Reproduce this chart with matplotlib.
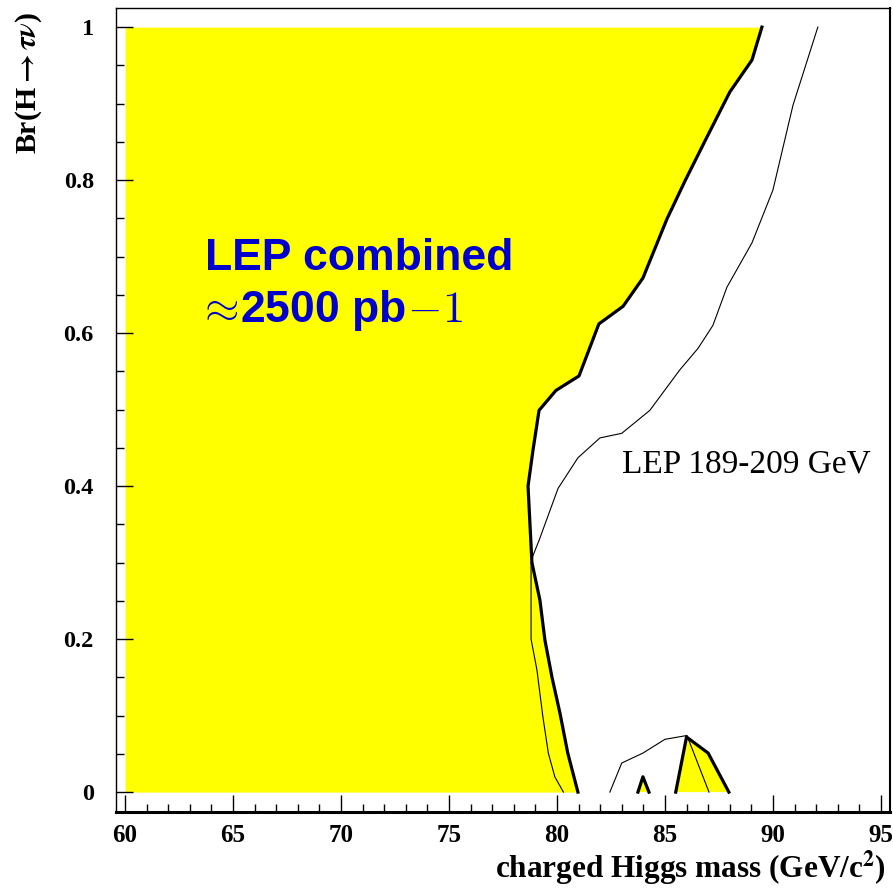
import matplotlib
matplotlib.use('Agg')
import matplotlib.pyplot as plt
from matplotlib.ticker import MultipleLocator

# observed exclusion boundary (thick line), mass vs Br
excl_mass = [80.97, 80.5, 80.14, 79.77, 79.44, 79.21, 78.84, 78.66, 78.89, 79.17,
             79.95, 81.02, 81.94, 83.06, 83.98, 85.09, 85.93, 86.94, 88.0, 89.03, 89.49]
excl_br = [0.0, 0.051, 0.103, 0.150, 0.199, 0.251, 0.30, 0.40, 0.447, 0.499,
           0.525, 0.544, 0.612, 0.635, 0.672, 0.749, 0.799, 0.856, 0.915, 0.957, 1.0]

# small excluded islands at low Br
isl1_mass = [83.75, 83.98, 84.26]
isl1_br = [0.0, 0.02, 0.0]
isl2_mass = [85.5, 86.0, 87.0, 87.96]
isl2_br = [0.0, 0.072, 0.051, 0.0]

# expected limit (thin line)
exp_mass = [80.3, 79.9, 79.6, 79.35, 79.07, 78.8, 78.8, 78.9, 79.17, 80.05, 80.97,
            81.99, 83.0, 84.3, 85.69, 86.53, 87.22, 87.87, 89.03, 90.0, 90.93, 92.08]
exp_br = [0.0, 0.02, 0.051, 0.098, 0.16, 0.2, 0.30, 0.31, 0.329, 0.397, 0.437,
          0.463, 0.469, 0.499, 0.552, 0.58, 0.61, 0.66, 0.718, 0.787, 0.898, 1.0]
exp2_mass = [82.45, 83.0, 83.98, 85.0, 86.02, 87.04]
exp2_br = [0.0, 0.038, 0.051, 0.069, 0.074, 0.0]

plt.rcParams['font.family'] = 'Liberation Serif'
plt.rcParams['font.weight'] = 'bold'
plt.rcParams['axes.labelweight'] = 'bold'
plt.rcParams['font.size'] = 17.5
plt.rcParams['mathtext.fontset'] = 'stix'

fig = plt.figure(figsize=(8.93, 8.88), dpi=100)
ax = fig.add_axes([0.1299, 0.0856, 0.8667, 0.9054])

yellow = '#ffff00'
ax.fill_betweenx(excl_br, 60, excl_mass, color=yellow, lw=0, zorder=1)
ax.fill(isl1_mass, isl1_br, color=yellow, lw=0, zorder=1)
ax.fill(isl2_mass, isl2_br, color=yellow, lw=0, zorder=1)

ax.plot(excl_mass, excl_br, color='black', lw=2.3, zorder=3)
ax.plot(isl1_mass, isl1_br, color='black', lw=2.3, zorder=3)
ax.plot(isl2_mass, isl2_br, color='black', lw=2.3, zorder=3)
ax.plot(exp_mass, exp_br, color='black', lw=0.8, zorder=2)
ax.plot(exp2_mass, exp2_br, color='black', lw=0.8, zorder=2)

ax.set_xlim(59.58, 95.42)
ax.set_ylim(-0.026, 1.025)

ax.xaxis.set_major_locator(MultipleLocator(5))
ax.xaxis.set_minor_locator(MultipleLocator(1))
ax.yaxis.set_major_locator(MultipleLocator(0.2))
ax.yaxis.set_minor_locator(MultipleLocator(0.05))
ax.set_yticks([0, 0.2, 0.4, 0.6, 0.8, 1.0])
ax.set_yticklabels(['0', '0.2', '0.4', '0.6', '0.8', '1'])

ax.tick_params(which='both', direction='in', top=False, right=False, width=1)
ax.tick_params(which='major', length=12)
ax.tick_params(which='minor', length=6)
ax.tick_params(axis='x', which='major', pad=9, labelsize=18)
ax.tick_params(axis='y', which='major', pad=16, labelsize=17.5)

ax.spines['left'].set_linewidth(1.0)
ax.spines['left'].set_linestyle((0, (3, 1)))
ax.spines['top'].set_linewidth(1.0)
ax.spines['top'].set_linestyle((0, (3, 1)))
ax.spines['right'].set_linewidth(1.5)
ax.spines['bottom'].set_linewidth(2.2)

ax.set_xlabel(r'charged Higgs mass (GeV/c$^{\mathbf{2}}$)', loc='right',
              fontsize=22.5, fontweight='bold', va='baseline')
ax.xaxis.set_label_coords(0.995, -0.0821)
ax.set_ylabel(r'Br(H$\rightarrow\tau\nu$)', loc='top', fontsize=21.5, fontweight='bold')
ax.yaxis.set_label_coords(-0.093, 0.995)

blue = '#0000cc'
ax.text(63.7, 0.682, 'LEP combined', color=blue, fontfamily='Liberation Sans',
        fontweight='bold', fontsize=32, va='baseline', zorder=4)
ax.text(63.6, 0.614, r'$\!\approx\!$2500 pb$\!-\!1$', color=blue,
        fontfamily='Liberation Sans', fontweight='bold', fontsize=32,
        va='baseline', math_fontfamily='cm', zorder=4)
ax.text(83.0, 0.418, 'LEP 189-209 GeV', fontweight='normal', fontsize=24,
        va='baseline', zorder=4)

fig.savefig('out.png', dpi=100)
